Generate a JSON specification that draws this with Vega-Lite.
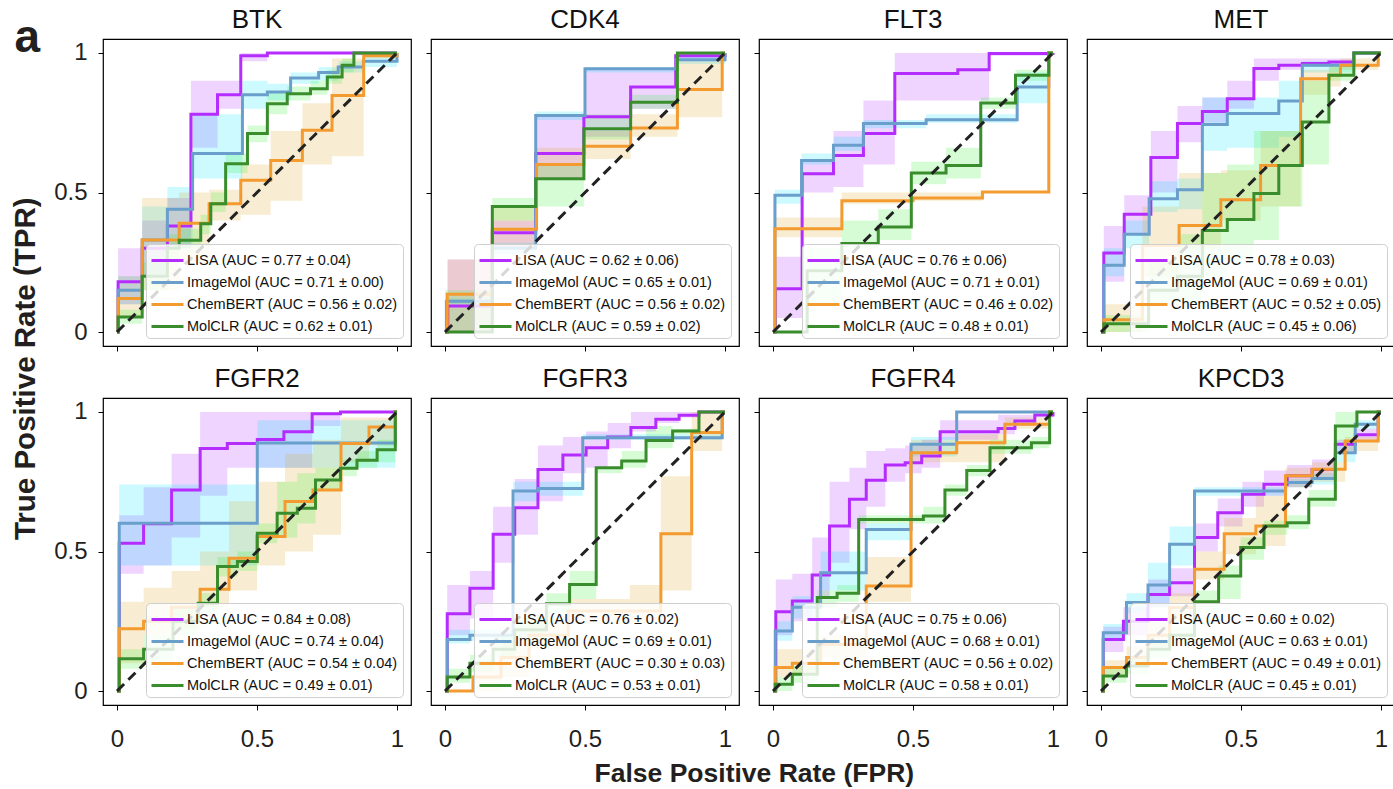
{
"$schema":"https://vega.github.io/schema/vega-lite/v6.json",
"background":"white",
"padding":{"left":10,"top":6,"right":0,"bottom":2},
"title":{"text":"a","orient":"top","anchor":"start","frame":"bounds","fontSize":46,"fontWeight":"bold","font":"Liberation Sans","color":"#231f20","offset":-56,"dx":4},
"resolve":{"scale":{"stroke":"independent"},"legend":{"stroke":"independent"}},
"vconcat":[{
 "title":{"text":"True Positive Rate (TPR)","orient":"left","anchor":"middle","fontSize":29.5,"fontWeight":"bold","font":"Liberation Sans","color":"#231f20","offset":12,"dx":28},
 "resolve":{"scale":{"stroke":"independent"},"legend":{"stroke":"independent"}},
 "vconcat":[{
  "title":{"text":"False Positive Rate (FPR)","orient":"bottom","anchor":"middle","fontSize":26.5,"fontWeight":"bold","font":"Liberation Sans","color":"#231f20","offset":9,"dx":30},
  "resolve":{"scale":{"stroke":"independent"},"legend":{"stroke":"independent"}},
  "spacing":12,
  "vconcat":[
   {"spacing":12,"resolve":{"scale":{"stroke":"independent"},"legend":{"stroke":"independent"}},
    "hconcat":[
     {"title":"BTK","width":308,"height":307,"data":{"name":"roc"},
      "transform":[{"filter":"datum.p === 'BTK'"},{"calculate":"datum.p + '|' + datum.m","as":"k"},{"lookup":"k","from":{"data":{"name":"auc"},"key":"k","fields":["label","o"]}}],
      "layer":[
       {"mark":{"type":"area","interpolate":"step-after","opacity":0.2},"encoding":{"x":{"field":"x","type":"quantitative","scale":{"domain":[-0.05,1.05],"nice":false,"zero":false},"axis":{"values":[0,0.5,1],"labels":false,"title":null}},"y":{"field":"lo","type":"quantitative","scale":{"domain":[-0.05,1.05],"nice":false,"zero":false},"axis":{"values":[0,0.5,1],"format":"~g","title":null,"labelPadding":11}},"y2":{"field":"hi"},"fill":{"field":"m","type":"nominal","scale":{"domain":["LISA","ImageMol","ChemBERT","MolCLR"],"range":["#b026ff","#00e5ff","#daa520","#33ee33"]},"legend":null}}},
       {"mark":{"type":"line","interpolate":"step-after","strokeWidth":3},"encoding":{"x":{"field":"x","type":"quantitative"},"y":{"field":"y","type":"quantitative"},"stroke":{"field":"label","type":"nominal","sort":{"field":"o","op":"min"},"scale":{"range":["#b52cff","#6a9fcb","#f39b2f","#3a8d2d"]},"legend":{"title":null}}}},
       {"data":{"name":"diag"},"mark":{"type":"line","strokeDash":[10,6],"stroke":"#222222","strokeWidth":3},"encoding":{"x":{"field":"x","type":"quantitative"},"y":{"field":"y","type":"quantitative"}}}
      ]},
     {"title":"CDK4","width":308,"height":307,"data":{"name":"roc"},
      "transform":[{"filter":"datum.p === 'CDK4'"},{"calculate":"datum.p + '|' + datum.m","as":"k"},{"lookup":"k","from":{"data":{"name":"auc"},"key":"k","fields":["label","o"]}}],
      "layer":[
       {"mark":{"type":"area","interpolate":"step-after","opacity":0.2},"encoding":{"x":{"field":"x","type":"quantitative","scale":{"domain":[-0.05,1.05],"nice":false,"zero":false},"axis":{"values":[0,0.5,1],"labels":false,"title":null}},"y":{"field":"lo","type":"quantitative","scale":{"domain":[-0.05,1.05],"nice":false,"zero":false},"axis":{"values":[0,0.5,1],"labels":false,"title":null}},"y2":{"field":"hi"},"fill":{"field":"m","type":"nominal","scale":{"domain":["LISA","ImageMol","ChemBERT","MolCLR"],"range":["#b026ff","#00e5ff","#daa520","#33ee33"]},"legend":null}}},
       {"mark":{"type":"line","interpolate":"step-after","strokeWidth":3},"encoding":{"x":{"field":"x","type":"quantitative"},"y":{"field":"y","type":"quantitative"},"stroke":{"field":"label","type":"nominal","sort":{"field":"o","op":"min"},"scale":{"range":["#b52cff","#6a9fcb","#f39b2f","#3a8d2d"]},"legend":{"title":null}}}},
       {"data":{"name":"diag"},"mark":{"type":"line","strokeDash":[10,6],"stroke":"#222222","strokeWidth":3},"encoding":{"x":{"field":"x","type":"quantitative"},"y":{"field":"y","type":"quantitative"}}}
      ]},
     {"title":"FLT3","width":308,"height":307,"data":{"name":"roc"},
      "transform":[{"filter":"datum.p === 'FLT3'"},{"calculate":"datum.p + '|' + datum.m","as":"k"},{"lookup":"k","from":{"data":{"name":"auc"},"key":"k","fields":["label","o"]}}],
      "layer":[
       {"mark":{"type":"area","interpolate":"step-after","opacity":0.2},"encoding":{"x":{"field":"x","type":"quantitative","scale":{"domain":[-0.05,1.05],"nice":false,"zero":false},"axis":{"values":[0,0.5,1],"labels":false,"title":null}},"y":{"field":"lo","type":"quantitative","scale":{"domain":[-0.05,1.05],"nice":false,"zero":false},"axis":{"values":[0,0.5,1],"labels":false,"title":null}},"y2":{"field":"hi"},"fill":{"field":"m","type":"nominal","scale":{"domain":["LISA","ImageMol","ChemBERT","MolCLR"],"range":["#b026ff","#00e5ff","#daa520","#33ee33"]},"legend":null}}},
       {"mark":{"type":"line","interpolate":"step-after","strokeWidth":3},"encoding":{"x":{"field":"x","type":"quantitative"},"y":{"field":"y","type":"quantitative"},"stroke":{"field":"label","type":"nominal","sort":{"field":"o","op":"min"},"scale":{"range":["#b52cff","#6a9fcb","#f39b2f","#3a8d2d"]},"legend":{"title":null}}}},
       {"data":{"name":"diag"},"mark":{"type":"line","strokeDash":[10,6],"stroke":"#222222","strokeWidth":3},"encoding":{"x":{"field":"x","type":"quantitative"},"y":{"field":"y","type":"quantitative"}}}
      ]},
     {"title":"MET","width":308,"height":307,"data":{"name":"roc"},
      "transform":[{"filter":"datum.p === 'MET'"},{"calculate":"datum.p + '|' + datum.m","as":"k"},{"lookup":"k","from":{"data":{"name":"auc"},"key":"k","fields":["label","o"]}}],
      "layer":[
       {"mark":{"type":"area","interpolate":"step-after","opacity":0.2},"encoding":{"x":{"field":"x","type":"quantitative","scale":{"domain":[-0.05,1.05],"nice":false,"zero":false},"axis":{"values":[0,0.5,1],"labels":false,"title":null}},"y":{"field":"lo","type":"quantitative","scale":{"domain":[-0.05,1.05],"nice":false,"zero":false},"axis":{"values":[0,0.5,1],"labels":false,"title":null}},"y2":{"field":"hi"},"fill":{"field":"m","type":"nominal","scale":{"domain":["LISA","ImageMol","ChemBERT","MolCLR"],"range":["#b026ff","#00e5ff","#daa520","#33ee33"]},"legend":null}}},
       {"mark":{"type":"line","interpolate":"step-after","strokeWidth":3},"encoding":{"x":{"field":"x","type":"quantitative"},"y":{"field":"y","type":"quantitative"},"stroke":{"field":"label","type":"nominal","sort":{"field":"o","op":"min"},"scale":{"range":["#b52cff","#6a9fcb","#f39b2f","#3a8d2d"]},"legend":{"title":null}}}},
       {"data":{"name":"diag"},"mark":{"type":"line","strokeDash":[10,6],"stroke":"#222222","strokeWidth":3},"encoding":{"x":{"field":"x","type":"quantitative"},"y":{"field":"y","type":"quantitative"}}}
      ]}
    ]},
   {"spacing":12,"resolve":{"scale":{"stroke":"independent"},"legend":{"stroke":"independent"}},
    "hconcat":[
     {"title":"FGFR2","width":308,"height":307,"data":{"name":"roc"},
      "transform":[{"filter":"datum.p === 'FGFR2'"},{"calculate":"datum.p + '|' + datum.m","as":"k"},{"lookup":"k","from":{"data":{"name":"auc"},"key":"k","fields":["label","o"]}}],
      "layer":[
       {"mark":{"type":"area","interpolate":"step-after","opacity":0.2},"encoding":{"x":{"field":"x","type":"quantitative","scale":{"domain":[-0.05,1.05],"nice":false,"zero":false},"axis":{"values":[0,0.5,1],"format":"~g","title":null,"labelPadding":17}},"y":{"field":"lo","type":"quantitative","scale":{"domain":[-0.05,1.05],"nice":false,"zero":false},"axis":{"values":[0,0.5,1],"format":"~g","title":null,"labelPadding":11}},"y2":{"field":"hi"},"fill":{"field":"m","type":"nominal","scale":{"domain":["LISA","ImageMol","ChemBERT","MolCLR"],"range":["#b026ff","#00e5ff","#daa520","#33ee33"]},"legend":null}}},
       {"mark":{"type":"line","interpolate":"step-after","strokeWidth":3},"encoding":{"x":{"field":"x","type":"quantitative"},"y":{"field":"y","type":"quantitative"},"stroke":{"field":"label","type":"nominal","sort":{"field":"o","op":"min"},"scale":{"range":["#b52cff","#6a9fcb","#f39b2f","#3a8d2d"]},"legend":{"title":null}}}},
       {"data":{"name":"diag"},"mark":{"type":"line","strokeDash":[10,6],"stroke":"#222222","strokeWidth":3},"encoding":{"x":{"field":"x","type":"quantitative"},"y":{"field":"y","type":"quantitative"}}}
      ]},
     {"title":"FGFR3","width":308,"height":307,"data":{"name":"roc"},
      "transform":[{"filter":"datum.p === 'FGFR3'"},{"calculate":"datum.p + '|' + datum.m","as":"k"},{"lookup":"k","from":{"data":{"name":"auc"},"key":"k","fields":["label","o"]}}],
      "layer":[
       {"mark":{"type":"area","interpolate":"step-after","opacity":0.2},"encoding":{"x":{"field":"x","type":"quantitative","scale":{"domain":[-0.05,1.05],"nice":false,"zero":false},"axis":{"values":[0,0.5,1],"format":"~g","title":null,"labelPadding":17}},"y":{"field":"lo","type":"quantitative","scale":{"domain":[-0.05,1.05],"nice":false,"zero":false},"axis":{"values":[0,0.5,1],"labels":false,"title":null}},"y2":{"field":"hi"},"fill":{"field":"m","type":"nominal","scale":{"domain":["LISA","ImageMol","ChemBERT","MolCLR"],"range":["#b026ff","#00e5ff","#daa520","#33ee33"]},"legend":null}}},
       {"mark":{"type":"line","interpolate":"step-after","strokeWidth":3},"encoding":{"x":{"field":"x","type":"quantitative"},"y":{"field":"y","type":"quantitative"},"stroke":{"field":"label","type":"nominal","sort":{"field":"o","op":"min"},"scale":{"range":["#b52cff","#6a9fcb","#f39b2f","#3a8d2d"]},"legend":{"title":null}}}},
       {"data":{"name":"diag"},"mark":{"type":"line","strokeDash":[10,6],"stroke":"#222222","strokeWidth":3},"encoding":{"x":{"field":"x","type":"quantitative"},"y":{"field":"y","type":"quantitative"}}}
      ]},
     {"title":"FGFR4","width":308,"height":307,"data":{"name":"roc"},
      "transform":[{"filter":"datum.p === 'FGFR4'"},{"calculate":"datum.p + '|' + datum.m","as":"k"},{"lookup":"k","from":{"data":{"name":"auc"},"key":"k","fields":["label","o"]}}],
      "layer":[
       {"mark":{"type":"area","interpolate":"step-after","opacity":0.2},"encoding":{"x":{"field":"x","type":"quantitative","scale":{"domain":[-0.05,1.05],"nice":false,"zero":false},"axis":{"values":[0,0.5,1],"format":"~g","title":null,"labelPadding":17}},"y":{"field":"lo","type":"quantitative","scale":{"domain":[-0.05,1.05],"nice":false,"zero":false},"axis":{"values":[0,0.5,1],"labels":false,"title":null}},"y2":{"field":"hi"},"fill":{"field":"m","type":"nominal","scale":{"domain":["LISA","ImageMol","ChemBERT","MolCLR"],"range":["#b026ff","#00e5ff","#daa520","#33ee33"]},"legend":null}}},
       {"mark":{"type":"line","interpolate":"step-after","strokeWidth":3},"encoding":{"x":{"field":"x","type":"quantitative"},"y":{"field":"y","type":"quantitative"},"stroke":{"field":"label","type":"nominal","sort":{"field":"o","op":"min"},"scale":{"range":["#b52cff","#6a9fcb","#f39b2f","#3a8d2d"]},"legend":{"title":null}}}},
       {"data":{"name":"diag"},"mark":{"type":"line","strokeDash":[10,6],"stroke":"#222222","strokeWidth":3},"encoding":{"x":{"field":"x","type":"quantitative"},"y":{"field":"y","type":"quantitative"}}}
      ]},
     {"title":"KPCD3","width":308,"height":307,"data":{"name":"roc"},
      "transform":[{"filter":"datum.p === 'KPCD3'"},{"calculate":"datum.p + '|' + datum.m","as":"k"},{"lookup":"k","from":{"data":{"name":"auc"},"key":"k","fields":["label","o"]}}],
      "layer":[
       {"mark":{"type":"area","interpolate":"step-after","opacity":0.2},"encoding":{"x":{"field":"x","type":"quantitative","scale":{"domain":[-0.05,1.05],"nice":false,"zero":false},"axis":{"values":[0,0.5,1],"format":"~g","title":null,"labelPadding":17}},"y":{"field":"lo","type":"quantitative","scale":{"domain":[-0.05,1.05],"nice":false,"zero":false},"axis":{"values":[0,0.5,1],"labels":false,"title":null}},"y2":{"field":"hi"},"fill":{"field":"m","type":"nominal","scale":{"domain":["LISA","ImageMol","ChemBERT","MolCLR"],"range":["#b026ff","#00e5ff","#daa520","#33ee33"]},"legend":null}}},
       {"mark":{"type":"line","interpolate":"step-after","strokeWidth":3},"encoding":{"x":{"field":"x","type":"quantitative"},"y":{"field":"y","type":"quantitative"},"stroke":{"field":"label","type":"nominal","sort":{"field":"o","op":"min"},"scale":{"range":["#b52cff","#6a9fcb","#f39b2f","#3a8d2d"]},"legend":{"title":null}}}},
       {"data":{"name":"diag"},"mark":{"type":"line","strokeDash":[10,6],"stroke":"#222222","strokeWidth":3},"encoding":{"x":{"field":"x","type":"quantitative"},"y":{"field":"y","type":"quantitative"}}}
      ]}
    ]}
  ]
 }]
}],
"config":{
 "font":"Liberation Sans",
 "view":{"stroke":"#000000","strokeWidth":1.2},
 "title":{"font":"Liberation Sans","fontSize":26,"fontWeight":"normal","color":"#111111","offset":6},
 "axis":{"domain":false,"grid":false,"ticks":true,"tickSize":5,"tickColor":"#000000","tickWidth":1,"labelFont":"Liberation Sans","labelFontSize":24,"labelColor":"#231f20","labelFlush":false},
 "legend":{"orient":"bottom-right","offset":8,"padding":5,"cornerRadius":4,"strokeColor":"#cfcfcf","fillColor":"rgba(255,255,255,0.82)","labelFont":"Liberation Sans","labelFontSize":14.5,"labelColor":"#111111","labelLimit":400,"labelOffset":8,"symbolType":"M-1.6,0H1.6","symbolSize":400,"symbolOffset":5,"symbolStrokeWidth":3,"rowPadding":4}
},
"datasets":{
 "diag":[{"x":0,"y":0},{"x":1,"y":1}],
 "auc":[
  {"k":"BTK|LISA","o":0,"label":"LISA (AUC = 0.77 ± 0.04)"},
  {"k":"BTK|ImageMol","o":1,"label":"ImageMol (AUC = 0.71 ± 0.00)"},
  {"k":"BTK|ChemBERT","o":2,"label":"ChemBERT (AUC = 0.56 ± 0.02)"},
  {"k":"BTK|MolCLR","o":3,"label":"MolCLR (AUC = 0.62 ± 0.01)"},
  {"k":"CDK4|LISA","o":0,"label":"LISA (AUC = 0.62 ± 0.06)"},
  {"k":"CDK4|ImageMol","o":1,"label":"ImageMol (AUC = 0.65 ± 0.01)"},
  {"k":"CDK4|ChemBERT","o":2,"label":"ChemBERT (AUC = 0.56 ± 0.02)"},
  {"k":"CDK4|MolCLR","o":3,"label":"MolCLR (AUC = 0.59 ± 0.02)"},
  {"k":"FLT3|LISA","o":0,"label":"LISA (AUC = 0.76 ± 0.06)"},
  {"k":"FLT3|ImageMol","o":1,"label":"ImageMol (AUC = 0.71 ± 0.01)"},
  {"k":"FLT3|ChemBERT","o":2,"label":"ChemBERT (AUC = 0.46 ± 0.02)"},
  {"k":"FLT3|MolCLR","o":3,"label":"MolCLR (AUC = 0.48 ± 0.01)"},
  {"k":"MET|LISA","o":0,"label":"LISA (AUC = 0.78 ± 0.03)"},
  {"k":"MET|ImageMol","o":1,"label":"ImageMol (AUC = 0.69 ± 0.01)"},
  {"k":"MET|ChemBERT","o":2,"label":"ChemBERT (AUC = 0.52 ± 0.05)"},
  {"k":"MET|MolCLR","o":3,"label":"MolCLR (AUC = 0.45 ± 0.06)"},
  {"k":"FGFR2|LISA","o":0,"label":"LISA (AUC = 0.84 ± 0.08)"},
  {"k":"FGFR2|ImageMol","o":1,"label":"ImageMol (AUC = 0.74 ± 0.04)"},
  {"k":"FGFR2|ChemBERT","o":2,"label":"ChemBERT (AUC = 0.54 ± 0.04)"},
  {"k":"FGFR2|MolCLR","o":3,"label":"MolCLR (AUC = 0.49 ± 0.01)"},
  {"k":"FGFR3|LISA","o":0,"label":"LISA (AUC = 0.76 ± 0.02)"},
  {"k":"FGFR3|ImageMol","o":1,"label":"ImageMol (AUC = 0.69 ± 0.01)"},
  {"k":"FGFR3|ChemBERT","o":2,"label":"ChemBERT (AUC = 0.30 ± 0.03)"},
  {"k":"FGFR3|MolCLR","o":3,"label":"MolCLR (AUC = 0.53 ± 0.01)"},
  {"k":"FGFR4|LISA","o":0,"label":"LISA (AUC = 0.75 ± 0.06)"},
  {"k":"FGFR4|ImageMol","o":1,"label":"ImageMol (AUC = 0.68 ± 0.01)"},
  {"k":"FGFR4|ChemBERT","o":2,"label":"ChemBERT (AUC = 0.56 ± 0.02)"},
  {"k":"FGFR4|MolCLR","o":3,"label":"MolCLR (AUC = 0.58 ± 0.01)"},
  {"k":"KPCD3|LISA","o":0,"label":"LISA (AUC = 0.60 ± 0.02)"},
  {"k":"KPCD3|ImageMol","o":1,"label":"ImageMol (AUC = 0.63 ± 0.01)"},
  {"k":"KPCD3|ChemBERT","o":2,"label":"ChemBERT (AUC = 0.49 ± 0.01)"},
  {"k":"KPCD3|MolCLR","o":3,"label":"MolCLR (AUC = 0.45 ± 0.01)"}
 ],
 "roc":[
  {"p":"BTK","m":"LISA","x":0,"y":0,"lo":0,"hi":0},
  {"p":"BTK","m":"LISA","x":0.004,"y":0.18,"lo":0.1,"hi":0.3},
  {"p":"BTK","m":"LISA","x":0.09,"y":0.3,"lo":0.2,"hi":0.4},
  {"p":"BTK","m":"LISA","x":0.18,"y":0.38,"lo":0.3,"hi":0.48},
  {"p":"BTK","m":"LISA","x":0.264,"y":0.78,"lo":0.66,"hi":0.9},
  {"p":"BTK","m":"LISA","x":0.359,"y":0.85,"lo":0.8,"hi":0.9},
  {"p":"BTK","m":"LISA","x":0.442,"y":0.99,"lo":0.97,"hi":1},
  {"p":"BTK","m":"LISA","x":0.537,"y":1,"lo":1,"hi":1},
  {"p":"BTK","m":"LISA","x":1,"y":1,"lo":1,"hi":1},
  {"p":"BTK","m":"ImageMol","x":0,"y":0,"lo":0,"hi":0},
  {"p":"BTK","m":"ImageMol","x":0.004,"y":0.15,"lo":0.1,"hi":0.2},
  {"p":"BTK","m":"ImageMol","x":0.09,"y":0.33,"lo":0.2,"hi":0.45},
  {"p":"BTK","m":"ImageMol","x":0.18,"y":0.44,"lo":0.3,"hi":0.52},
  {"p":"BTK","m":"ImageMol","x":0.27,"y":0.64,"lo":0.55,"hi":0.78},
  {"p":"BTK","m":"ImageMol","x":0.448,"y":0.85,"lo":0.8,"hi":0.9},
  {"p":"BTK","m":"ImageMol","x":0.537,"y":0.86,"lo":0.83,"hi":0.89},
  {"p":"BTK","m":"ImageMol","x":0.62,"y":0.91,"lo":0.89,"hi":0.93},
  {"p":"BTK","m":"ImageMol","x":0.72,"y":0.93,"lo":0.9,"hi":0.95},
  {"p":"BTK","m":"ImageMol","x":0.79,"y":0.95,"lo":0.93,"hi":0.97},
  {"p":"BTK","m":"ImageMol","x":0.88,"y":0.97,"lo":0.95,"hi":0.99},
  {"p":"BTK","m":"ImageMol","x":1,"y":1,"lo":1,"hi":1},
  {"p":"BTK","m":"ChemBERT","x":0,"y":0,"lo":0,"hi":0},
  {"p":"BTK","m":"ChemBERT","x":0.004,"y":0.12,"lo":0.05,"hi":0.2},
  {"p":"BTK","m":"ChemBERT","x":0.09,"y":0.33,"lo":0.15,"hi":0.48},
  {"p":"BTK","m":"ChemBERT","x":0.222,"y":0.39,"lo":0.25,"hi":0.5},
  {"p":"BTK","m":"ChemBERT","x":0.329,"y":0.46,"lo":0.4,"hi":0.51},
  {"p":"BTK","m":"ChemBERT","x":0.442,"y":0.544,"lo":0.42,"hi":0.6},
  {"p":"BTK","m":"ChemBERT","x":0.549,"y":0.615,"lo":0.47,"hi":0.72},
  {"p":"BTK","m":"ChemBERT","x":0.662,"y":0.723,"lo":0.6,"hi":0.82},
  {"p":"BTK","m":"ChemBERT","x":0.768,"y":0.848,"lo":0.63,"hi":0.98},
  {"p":"BTK","m":"ChemBERT","x":0.881,"y":0.99,"lo":0.98,"hi":1},
  {"p":"BTK","m":"ChemBERT","x":1,"y":1,"lo":1,"hi":1},
  {"p":"BTK","m":"MolCLR","x":0,"y":0,"lo":0,"hi":0},
  {"p":"BTK","m":"MolCLR","x":0.004,"y":0.054,"lo":0.03,"hi":0.08},
  {"p":"BTK","m":"MolCLR","x":0.09,"y":0.2,"lo":0.15,"hi":0.25},
  {"p":"BTK","m":"MolCLR","x":0.18,"y":0.3,"lo":0.25,"hi":0.35},
  {"p":"BTK","m":"MolCLR","x":0.222,"y":0.329,"lo":0.3,"hi":0.37},
  {"p":"BTK","m":"MolCLR","x":0.299,"y":0.388,"lo":0.35,"hi":0.42},
  {"p":"BTK","m":"MolCLR","x":0.335,"y":0.46,"lo":0.43,"hi":0.5},
  {"p":"BTK","m":"MolCLR","x":0.388,"y":0.603,"lo":0.57,"hi":0.64},
  {"p":"BTK","m":"MolCLR","x":0.466,"y":0.711,"lo":0.68,"hi":0.74},
  {"p":"BTK","m":"MolCLR","x":0.537,"y":0.818,"lo":0.78,"hi":0.86},
  {"p":"BTK","m":"MolCLR","x":0.608,"y":0.854,"lo":0.83,"hi":0.88},
  {"p":"BTK","m":"MolCLR","x":0.691,"y":0.872,"lo":0.85,"hi":0.9},
  {"p":"BTK","m":"MolCLR","x":0.751,"y":0.914,"lo":0.89,"hi":0.94},
  {"p":"BTK","m":"MolCLR","x":0.804,"y":0.956,"lo":0.93,"hi":0.98},
  {"p":"BTK","m":"MolCLR","x":0.846,"y":1,"lo":1,"hi":1},
  {"p":"BTK","m":"MolCLR","x":1,"y":1,"lo":1,"hi":1},

  {"p":"CDK4","m":"LISA","x":0,"y":0,"lo":0,"hi":0},
  {"p":"CDK4","m":"LISA","x":0.01,"y":0.093,"lo":0,"hi":0.26},
  {"p":"CDK4","m":"LISA","x":0.169,"y":0.356,"lo":0.3,"hi":0.4},
  {"p":"CDK4","m":"LISA","x":0.324,"y":0.64,"lo":0.55,"hi":0.78},
  {"p":"CDK4","m":"LISA","x":0.496,"y":0.771,"lo":0.7,"hi":0.94},
  {"p":"CDK4","m":"LISA","x":0.663,"y":0.878,"lo":0.8,"hi":0.94},
  {"p":"CDK4","m":"LISA","x":0.824,"y":0.99,"lo":0.97,"hi":1},
  {"p":"CDK4","m":"LISA","x":1,"y":1,"lo":1,"hi":1},
  {"p":"CDK4","m":"ImageMol","x":0,"y":0,"lo":0,"hi":0},
  {"p":"CDK4","m":"ImageMol","x":0.005,"y":0.11,"lo":0.1,"hi":0.12},
  {"p":"CDK4","m":"ImageMol","x":0.169,"y":0.3,"lo":0.28,"hi":0.32},
  {"p":"CDK4","m":"ImageMol","x":0.324,"y":0.776,"lo":0.76,"hi":0.79},
  {"p":"CDK4","m":"ImageMol","x":0.5,"y":0.943,"lo":0.93,"hi":0.95},
  {"p":"CDK4","m":"ImageMol","x":0.826,"y":0.976,"lo":0.96,"hi":0.99},
  {"p":"CDK4","m":"ImageMol","x":1,"y":1,"lo":1,"hi":1},
  {"p":"CDK4","m":"ChemBERT","x":0,"y":0,"lo":0,"hi":0},
  {"p":"CDK4","m":"ChemBERT","x":0.008,"y":0.135,"lo":0,"hi":0.26},
  {"p":"CDK4","m":"ChemBERT","x":0.169,"y":0.368,"lo":0.3,"hi":0.45},
  {"p":"CDK4","m":"ChemBERT","x":0.327,"y":0.6,"lo":0.55,"hi":0.66},
  {"p":"CDK4","m":"ChemBERT","x":0.496,"y":0.666,"lo":0.62,"hi":0.72},
  {"p":"CDK4","m":"ChemBERT","x":0.663,"y":0.731,"lo":0.7,"hi":0.78},
  {"p":"CDK4","m":"ChemBERT","x":0.83,"y":0.869,"lo":0.77,"hi":0.97},
  {"p":"CDK4","m":"ChemBERT","x":0.99,"y":1,"lo":1,"hi":1},
  {"p":"CDK4","m":"ChemBERT","x":1,"y":1,"lo":1,"hi":1},
  {"p":"CDK4","m":"MolCLR","x":0,"y":0,"lo":0,"hi":0.15},
  {"p":"CDK4","m":"MolCLR","x":0.169,"y":0.45,"lo":0.4,"hi":0.48},
  {"p":"CDK4","m":"MolCLR","x":0.324,"y":0.549,"lo":0.45,"hi":0.6},
  {"p":"CDK4","m":"MolCLR","x":0.496,"y":0.728,"lo":0.69,"hi":0.78},
  {"p":"CDK4","m":"MolCLR","x":0.663,"y":0.823,"lo":0.8,"hi":0.85},
  {"p":"CDK4","m":"MolCLR","x":0.83,"y":1,"lo":1,"hi":1},
  {"p":"CDK4","m":"MolCLR","x":1,"y":1,"lo":1,"hi":1},

  {"p":"FLT3","m":"LISA","x":0,"y":0,"lo":0,"hi":0},
  {"p":"FLT3","m":"LISA","x":0.009,"y":0.155,"lo":0.05,"hi":0.27},
  {"p":"FLT3","m":"LISA","x":0.104,"y":0.567,"lo":0.5,"hi":0.62},
  {"p":"FLT3","m":"LISA","x":0.216,"y":0.633,"lo":0.52,"hi":0.72},
  {"p":"FLT3","m":"LISA","x":0.323,"y":0.711,"lo":0.6,"hi":0.83},
  {"p":"FLT3","m":"LISA","x":0.435,"y":0.926,"lo":0.83,"hi":1},
  {"p":"FLT3","m":"LISA","x":0.66,"y":0.94,"lo":0.83,"hi":1},
  {"p":"FLT3","m":"LISA","x":0.772,"y":0.998,"lo":0.99,"hi":1},
  {"p":"FLT3","m":"LISA","x":1,"y":1,"lo":1,"hi":1},
  {"p":"FLT3","m":"ImageMol","x":0,"y":0,"lo":0,"hi":0},
  {"p":"FLT3","m":"ImageMol","x":0.007,"y":0.49,"lo":0.46,"hi":0.51},
  {"p":"FLT3","m":"ImageMol","x":0.102,"y":0.615,"lo":0.6,"hi":0.64},
  {"p":"FLT3","m":"ImageMol","x":0.216,"y":0.669,"lo":0.65,"hi":0.7},
  {"p":"FLT3","m":"ImageMol","x":0.323,"y":0.747,"lo":0.73,"hi":0.76},
  {"p":"FLT3","m":"ImageMol","x":0.547,"y":0.761,"lo":0.75,"hi":0.78},
  {"p":"FLT3","m":"ImageMol","x":0.872,"y":0.878,"lo":0.82,"hi":0.93},
  {"p":"FLT3","m":"ImageMol","x":0.985,"y":1,"lo":1,"hi":1},
  {"p":"FLT3","m":"ImageMol","x":1,"y":1,"lo":1,"hi":1},
  {"p":"FLT3","m":"ChemBERT","x":0,"y":0,"lo":0,"hi":0},
  {"p":"FLT3","m":"ChemBERT","x":0.007,"y":0.37,"lo":0.34,"hi":0.41},
  {"p":"FLT3","m":"ChemBERT","x":0.246,"y":0.47,"lo":0.46,"hi":0.5},
  {"p":"FLT3","m":"ChemBERT","x":0.5,"y":0.48,"lo":0.47,"hi":0.5},
  {"p":"FLT3","m":"ChemBERT","x":0.748,"y":0.502,"lo":0.5,"hi":0.5},
  {"p":"FLT3","m":"ChemBERT","x":0.985,"y":1,"lo":1,"hi":1},
  {"p":"FLT3","m":"ChemBERT","x":1,"y":1,"lo":1,"hi":1},
  {"p":"FLT3","m":"MolCLR","x":0,"y":0,"lo":0,"hi":0},
  {"p":"FLT3","m":"MolCLR","x":0.122,"y":0.22,"lo":0.1,"hi":0.3},
  {"p":"FLT3","m":"MolCLR","x":0.246,"y":0.317,"lo":0.3,"hi":0.4},
  {"p":"FLT3","m":"MolCLR","x":0.376,"y":0.376,"lo":0.33,"hi":0.44},
  {"p":"FLT3","m":"MolCLR","x":0.494,"y":0.57,"lo":0.53,"hi":0.61},
  {"p":"FLT3","m":"MolCLR","x":0.618,"y":0.597,"lo":0.55,"hi":0.66},
  {"p":"FLT3","m":"MolCLR","x":0.742,"y":0.821,"lo":0.8,"hi":0.84},
  {"p":"FLT3","m":"MolCLR","x":0.866,"y":0.92,"lo":0.9,"hi":0.94},
  {"p":"FLT3","m":"MolCLR","x":0.985,"y":1,"lo":1,"hi":1},
  {"p":"FLT3","m":"MolCLR","x":1,"y":1,"lo":1,"hi":1},

  {"p":"MET","m":"LISA","x":0,"y":0,"lo":0,"hi":0},
  {"p":"MET","m":"LISA","x":0.01,"y":0.283,"lo":0.18,"hi":0.38},
  {"p":"MET","m":"LISA","x":0.083,"y":0.422,"lo":0.35,"hi":0.49},
  {"p":"MET","m":"LISA","x":0.178,"y":0.625,"lo":0.5,"hi":0.72},
  {"p":"MET","m":"LISA","x":0.273,"y":0.747,"lo":0.68,"hi":0.81},
  {"p":"MET","m":"LISA","x":0.362,"y":0.79,"lo":0.75,"hi":0.84},
  {"p":"MET","m":"LISA","x":0.451,"y":0.836,"lo":0.8,"hi":0.9},
  {"p":"MET","m":"LISA","x":0.546,"y":0.944,"lo":0.9,"hi":0.98},
  {"p":"MET","m":"LISA","x":0.635,"y":0.956,"lo":0.94,"hi":0.98},
  {"p":"MET","m":"LISA","x":0.719,"y":0.962,"lo":0.95,"hi":0.98},
  {"p":"MET","m":"LISA","x":0.814,"y":0.968,"lo":0.96,"hi":0.98},
  {"p":"MET","m":"LISA","x":0.903,"y":1,"lo":1,"hi":1},
  {"p":"MET","m":"LISA","x":1,"y":1,"lo":1,"hi":1},
  {"p":"MET","m":"ImageMol","x":0,"y":0,"lo":0,"hi":0},
  {"p":"MET","m":"ImageMol","x":0.01,"y":0.239,"lo":0.2,"hi":0.3},
  {"p":"MET","m":"ImageMol","x":0.083,"y":0.35,"lo":0.3,"hi":0.4},
  {"p":"MET","m":"ImageMol","x":0.172,"y":0.478,"lo":0.43,"hi":0.54},
  {"p":"MET","m":"ImageMol","x":0.273,"y":0.51,"lo":0.44,"hi":0.55},
  {"p":"MET","m":"ImageMol","x":0.362,"y":0.744,"lo":0.65,"hi":0.84},
  {"p":"MET","m":"ImageMol","x":0.451,"y":0.783,"lo":0.66,"hi":0.84},
  {"p":"MET","m":"ImageMol","x":0.635,"y":0.828,"lo":0.7,"hi":0.9},
  {"p":"MET","m":"ImageMol","x":0.719,"y":0.956,"lo":0.93,"hi":0.97},
  {"p":"MET","m":"ImageMol","x":0.903,"y":1,"lo":1,"hi":1},
  {"p":"MET","m":"ImageMol","x":1,"y":1,"lo":1,"hi":1},
  {"p":"MET","m":"ChemBERT","x":0,"y":0,"lo":0,"hi":0},
  {"p":"MET","m":"ChemBERT","x":0.01,"y":0.044,"lo":0,"hi":0.1},
  {"p":"MET","m":"ChemBERT","x":0.148,"y":0.31,"lo":0.2,"hi":0.45},
  {"p":"MET","m":"ChemBERT","x":0.279,"y":0.382,"lo":0.3,"hi":0.57},
  {"p":"MET","m":"ChemBERT","x":0.428,"y":0.474,"lo":0.4,"hi":0.58},
  {"p":"MET","m":"ChemBERT","x":0.57,"y":0.597,"lo":0.45,"hi":0.72},
  {"p":"MET","m":"ChemBERT","x":0.713,"y":0.908,"lo":0.85,"hi":0.94},
  {"p":"MET","m":"ChemBERT","x":0.814,"y":0.92,"lo":0.88,"hi":0.96},
  {"p":"MET","m":"ChemBERT","x":0.855,"y":0.956,"lo":0.94,"hi":0.98},
  {"p":"MET","m":"ChemBERT","x":0.99,"y":1,"lo":1,"hi":1},
  {"p":"MET","m":"ChemBERT","x":1,"y":1,"lo":1,"hi":1},
  {"p":"MET","m":"MolCLR","x":0,"y":0,"lo":0,"hi":0},
  {"p":"MET","m":"MolCLR","x":0.01,"y":0.03,"lo":0,"hi":0.06},
  {"p":"MET","m":"MolCLR","x":0.17,"y":0.15,"lo":0.1,"hi":0.25},
  {"p":"MET","m":"MolCLR","x":0.273,"y":0.2,"lo":0.1,"hi":0.35},
  {"p":"MET","m":"MolCLR","x":0.362,"y":0.364,"lo":0.2,"hi":0.57},
  {"p":"MET","m":"MolCLR","x":0.451,"y":0.403,"lo":0.25,"hi":0.6},
  {"p":"MET","m":"MolCLR","x":0.546,"y":0.496,"lo":0.33,"hi":0.72},
  {"p":"MET","m":"MolCLR","x":0.635,"y":0.597,"lo":0.45,"hi":0.72},
  {"p":"MET","m":"MolCLR","x":0.719,"y":0.753,"lo":0.6,"hi":0.9},
  {"p":"MET","m":"MolCLR","x":0.814,"y":0.92,"lo":0.9,"hi":0.96},
  {"p":"MET","m":"MolCLR","x":0.903,"y":1,"lo":1,"hi":1},
  {"p":"MET","m":"MolCLR","x":1,"y":1,"lo":1,"hi":1},

  {"p":"FGFR2","m":"LISA","x":0,"y":0,"lo":0,"hi":0},
  {"p":"FGFR2","m":"LISA","x":0.008,"y":0.53,"lo":0.42,"hi":0.63},
  {"p":"FGFR2","m":"LISA","x":0.095,"y":0.599,"lo":0.45,"hi":0.73},
  {"p":"FGFR2","m":"LISA","x":0.195,"y":0.72,"lo":0.55,"hi":0.85},
  {"p":"FGFR2","m":"LISA","x":0.297,"y":0.869,"lo":0.7,"hi":1},
  {"p":"FGFR2","m":"LISA","x":0.394,"y":0.887,"lo":0.8,"hi":1},
  {"p":"FGFR2","m":"LISA","x":0.501,"y":0.901,"lo":0.8,"hi":1},
  {"p":"FGFR2","m":"LISA","x":0.596,"y":0.929,"lo":0.8,"hi":1},
  {"p":"FGFR2","m":"LISA","x":0.697,"y":0.994,"lo":0.95,"hi":1},
  {"p":"FGFR2","m":"LISA","x":0.798,"y":1,"lo":1,"hi":1},
  {"p":"FGFR2","m":"LISA","x":1,"y":1,"lo":1,"hi":1},
  {"p":"FGFR2","m":"ImageMol","x":0,"y":0,"lo":0,"hi":0},
  {"p":"FGFR2","m":"ImageMol","x":0.008,"y":0.601,"lo":0.45,"hi":0.74},
  {"p":"FGFR2","m":"ImageMol","x":0.501,"y":0.889,"lo":0.8,"hi":0.97},
  {"p":"FGFR2","m":"ImageMol","x":0.994,"y":1,"lo":1,"hi":1},
  {"p":"FGFR2","m":"ImageMol","x":1,"y":1,"lo":1,"hi":1},
  {"p":"FGFR2","m":"ChemBERT","x":0,"y":0,"lo":0,"hi":0},
  {"p":"FGFR2","m":"ChemBERT","x":0.008,"y":0.223,"lo":0.1,"hi":0.32},
  {"p":"FGFR2","m":"ChemBERT","x":0.095,"y":0.25,"lo":0.2,"hi":0.37},
  {"p":"FGFR2","m":"ChemBERT","x":0.195,"y":0.3,"lo":0.22,"hi":0.43},
  {"p":"FGFR2","m":"ChemBERT","x":0.297,"y":0.365,"lo":0.3,"hi":0.5},
  {"p":"FGFR2","m":"ChemBERT","x":0.4,"y":0.476,"lo":0.36,"hi":0.68},
  {"p":"FGFR2","m":"ChemBERT","x":0.5,"y":0.554,"lo":0.45,"hi":0.75},
  {"p":"FGFR2","m":"ChemBERT","x":0.6,"y":0.679,"lo":0.5,"hi":0.85},
  {"p":"FGFR2","m":"ChemBERT","x":0.7,"y":0.72,"lo":0.56,"hi":0.9},
  {"p":"FGFR2","m":"ChemBERT","x":0.8,"y":0.887,"lo":0.82,"hi":0.98},
  {"p":"FGFR2","m":"ChemBERT","x":0.9,"y":0.946,"lo":0.88,"hi":0.98},
  {"p":"FGFR2","m":"ChemBERT","x":0.994,"y":1,"lo":1,"hi":1},
  {"p":"FGFR2","m":"ChemBERT","x":1,"y":1,"lo":1,"hi":1},
  {"p":"FGFR2","m":"MolCLR","x":0,"y":0,"lo":0,"hi":0},
  {"p":"FGFR2","m":"MolCLR","x":0.008,"y":0.116,"lo":0.08,"hi":0.15},
  {"p":"FGFR2","m":"MolCLR","x":0.095,"y":0.15,"lo":0.1,"hi":0.2},
  {"p":"FGFR2","m":"MolCLR","x":0.2,"y":0.25,"lo":0.2,"hi":0.3},
  {"p":"FGFR2","m":"MolCLR","x":0.29,"y":0.315,"lo":0.28,"hi":0.35},
  {"p":"FGFR2","m":"MolCLR","x":0.359,"y":0.446,"lo":0.41,"hi":0.48},
  {"p":"FGFR2","m":"MolCLR","x":0.43,"y":0.464,"lo":0.43,"hi":0.5},
  {"p":"FGFR2","m":"MolCLR","x":0.501,"y":0.565,"lo":0.53,"hi":0.6},
  {"p":"FGFR2","m":"MolCLR","x":0.572,"y":0.637,"lo":0.55,"hi":0.75},
  {"p":"FGFR2","m":"MolCLR","x":0.644,"y":0.655,"lo":0.6,"hi":0.78},
  {"p":"FGFR2","m":"MolCLR","x":0.709,"y":0.756,"lo":0.72,"hi":0.8},
  {"p":"FGFR2","m":"MolCLR","x":0.798,"y":0.798,"lo":0.77,"hi":0.83},
  {"p":"FGFR2","m":"MolCLR","x":0.857,"y":0.827,"lo":0.8,"hi":0.86},
  {"p":"FGFR2","m":"MolCLR","x":0.929,"y":0.865,"lo":0.82,"hi":0.9},
  {"p":"FGFR2","m":"MolCLR","x":0.994,"y":1,"lo":1,"hi":1},
  {"p":"FGFR2","m":"MolCLR","x":1,"y":1,"lo":1,"hi":1},

  {"p":"FGFR3","m":"LISA","x":0,"y":0,"lo":0,"hi":0},
  {"p":"FGFR3","m":"LISA","x":0.008,"y":0.277,"lo":0.2,"hi":0.38},
  {"p":"FGFR3","m":"LISA","x":0.089,"y":0.368,"lo":0.26,"hi":0.43},
  {"p":"FGFR3","m":"LISA","x":0.172,"y":0.562,"lo":0.46,"hi":0.66},
  {"p":"FGFR3","m":"LISA","x":0.249,"y":0.657,"lo":0.56,"hi":0.76},
  {"p":"FGFR3","m":"LISA","x":0.332,"y":0.794,"lo":0.68,"hi":0.88},
  {"p":"FGFR3","m":"LISA","x":0.421,"y":0.846,"lo":0.78,"hi":0.91},
  {"p":"FGFR3","m":"LISA","x":0.504,"y":0.872,"lo":0.8,"hi":0.93},
  {"p":"FGFR3","m":"LISA","x":0.581,"y":0.91,"lo":0.87,"hi":0.96},
  {"p":"FGFR3","m":"LISA","x":0.664,"y":0.944,"lo":0.93,"hi":1},
  {"p":"FGFR3","m":"LISA","x":0.753,"y":0.974,"lo":0.96,"hi":1},
  {"p":"FGFR3","m":"LISA","x":0.836,"y":0.988,"lo":0.98,"hi":1},
  {"p":"FGFR3","m":"LISA","x":0.907,"y":1,"lo":1,"hi":1},
  {"p":"FGFR3","m":"LISA","x":1,"y":1,"lo":1,"hi":1},
  {"p":"FGFR3","m":"ImageMol","x":0,"y":0,"lo":0,"hi":0},
  {"p":"FGFR3","m":"ImageMol","x":0.008,"y":0.185,"lo":0.17,"hi":0.22},
  {"p":"FGFR3","m":"ImageMol","x":0.089,"y":0.2,"lo":0.18,"hi":0.22},
  {"p":"FGFR3","m":"ImageMol","x":0.243,"y":0.717,"lo":0.68,"hi":0.75},
  {"p":"FGFR3","m":"ImageMol","x":0.332,"y":0.726,"lo":0.7,"hi":0.75},
  {"p":"FGFR3","m":"ImageMol","x":0.492,"y":0.908,"lo":0.9,"hi":0.92},
  {"p":"FGFR3","m":"ImageMol","x":0.99,"y":1,"lo":1,"hi":1},
  {"p":"FGFR3","m":"ImageMol","x":1,"y":1,"lo":1,"hi":1},
  {"p":"FGFR3","m":"ChemBERT","x":0,"y":0,"lo":0,"hi":0},
  {"p":"FGFR3","m":"ChemBERT","x":0.1,"y":0.05,"lo":0,"hi":0.1},
  {"p":"FGFR3","m":"ChemBERT","x":0.2,"y":0.12,"lo":0.05,"hi":0.18},
  {"p":"FGFR3","m":"ChemBERT","x":0.3,"y":0.2,"lo":0.15,"hi":0.25},
  {"p":"FGFR3","m":"ChemBERT","x":0.44,"y":0.287,"lo":0.24,"hi":0.33},
  {"p":"FGFR3","m":"ChemBERT","x":0.66,"y":0.287,"lo":0.24,"hi":0.38},
  {"p":"FGFR3","m":"ChemBERT","x":0.771,"y":0.564,"lo":0.36,"hi":0.77},
  {"p":"FGFR3","m":"ChemBERT","x":0.881,"y":0.926,"lo":0.86,"hi":1},
  {"p":"FGFR3","m":"ChemBERT","x":0.99,"y":1,"lo":1,"hi":1},
  {"p":"FGFR3","m":"ChemBERT","x":1,"y":1,"lo":1,"hi":1},
  {"p":"FGFR3","m":"MolCLR","x":0,"y":0,"lo":0,"hi":0},
  {"p":"FGFR3","m":"MolCLR","x":0.008,"y":0.05,"lo":0.03,"hi":0.08},
  {"p":"FGFR3","m":"MolCLR","x":0.089,"y":0.1,"lo":0.07,"hi":0.13},
  {"p":"FGFR3","m":"MolCLR","x":0.172,"y":0.15,"lo":0.12,"hi":0.2},
  {"p":"FGFR3","m":"MolCLR","x":0.249,"y":0.22,"lo":0.18,"hi":0.27},
  {"p":"FGFR3","m":"MolCLR","x":0.362,"y":0.313,"lo":0.28,"hi":0.35},
  {"p":"FGFR3","m":"MolCLR","x":0.445,"y":0.382,"lo":0.33,"hi":0.43},
  {"p":"FGFR3","m":"MolCLR","x":0.54,"y":0.8,"lo":0.78,"hi":0.8},
  {"p":"FGFR3","m":"MolCLR","x":0.631,"y":0.824,"lo":0.8,"hi":0.86},
  {"p":"FGFR3","m":"MolCLR","x":0.718,"y":0.898,"lo":0.87,"hi":0.95},
  {"p":"FGFR3","m":"MolCLR","x":0.813,"y":0.932,"lo":0.92,"hi":0.94},
  {"p":"FGFR3","m":"MolCLR","x":0.907,"y":1,"lo":1,"hi":1},
  {"p":"FGFR3","m":"MolCLR","x":1,"y":1,"lo":1,"hi":1},

  {"p":"FGFR4","m":"LISA","x":0,"y":0,"lo":0,"hi":0},
  {"p":"FGFR4","m":"LISA","x":0.01,"y":0.284,"lo":0.2,"hi":0.4},
  {"p":"FGFR4","m":"LISA","x":0.069,"y":0.323,"lo":0.25,"hi":0.42},
  {"p":"FGFR4","m":"LISA","x":0.14,"y":0.416,"lo":0.34,"hi":0.55},
  {"p":"FGFR4","m":"LISA","x":0.202,"y":0.591,"lo":0.46,"hi":0.75},
  {"p":"FGFR4","m":"LISA","x":0.273,"y":0.687,"lo":0.58,"hi":0.8},
  {"p":"FGFR4","m":"LISA","x":0.333,"y":0.755,"lo":0.66,"hi":0.86},
  {"p":"FGFR4","m":"LISA","x":0.401,"y":0.81,"lo":0.75,"hi":0.87},
  {"p":"FGFR4","m":"LISA","x":0.472,"y":0.818,"lo":0.78,"hi":0.88},
  {"p":"FGFR4","m":"LISA","x":0.531,"y":0.842,"lo":0.8,"hi":0.9},
  {"p":"FGFR4","m":"LISA","x":0.597,"y":0.929,"lo":0.9,"hi":0.97},
  {"p":"FGFR4","m":"LISA","x":0.804,"y":0.941,"lo":0.92,"hi":0.99},
  {"p":"FGFR4","m":"LISA","x":0.864,"y":0.968,"lo":0.95,"hi":0.99},
  {"p":"FGFR4","m":"LISA","x":0.935,"y":0.989,"lo":0.98,"hi":1},
  {"p":"FGFR4","m":"LISA","x":1,"y":1,"lo":1,"hi":1},
  {"p":"FGFR4","m":"ImageMol","x":0,"y":0,"lo":0,"hi":0},
  {"p":"FGFR4","m":"ImageMol","x":0.008,"y":0.215,"lo":0.18,"hi":0.25},
  {"p":"FGFR4","m":"ImageMol","x":0.069,"y":0.3,"lo":0.26,"hi":0.34},
  {"p":"FGFR4","m":"ImageMol","x":0.17,"y":0.424,"lo":0.36,"hi":0.5},
  {"p":"FGFR4","m":"ImageMol","x":0.333,"y":0.579,"lo":0.54,"hi":0.6},
  {"p":"FGFR4","m":"ImageMol","x":0.493,"y":0.884,"lo":0.84,"hi":0.91},
  {"p":"FGFR4","m":"ImageMol","x":0.656,"y":1,"lo":1,"hi":1},
  {"p":"FGFR4","m":"ImageMol","x":1,"y":1,"lo":1,"hi":1},
  {"p":"FGFR4","m":"ChemBERT","x":0,"y":0,"lo":0,"hi":0},
  {"p":"FGFR4","m":"ChemBERT","x":0.008,"y":0.084,"lo":0.05,"hi":0.15},
  {"p":"FGFR4","m":"ChemBERT","x":0.069,"y":0.1,"lo":0.06,"hi":0.15},
  {"p":"FGFR4","m":"ChemBERT","x":0.17,"y":0.167,"lo":0.12,"hi":0.2},
  {"p":"FGFR4","m":"ChemBERT","x":0.333,"y":0.376,"lo":0.32,"hi":0.48},
  {"p":"FGFR4","m":"ChemBERT","x":0.493,"y":0.854,"lo":0.82,"hi":0.9},
  {"p":"FGFR4","m":"ChemBERT","x":0.656,"y":0.89,"lo":0.82,"hi":0.92},
  {"p":"FGFR4","m":"ChemBERT","x":0.828,"y":0.956,"lo":0.94,"hi":0.98},
  {"p":"FGFR4","m":"ChemBERT","x":0.987,"y":1,"lo":1,"hi":1},
  {"p":"FGFR4","m":"ChemBERT","x":1,"y":1,"lo":1,"hi":1},
  {"p":"FGFR4","m":"MolCLR","x":0,"y":0,"lo":0,"hi":0},
  {"p":"FGFR4","m":"MolCLR","x":0.008,"y":0.024,"lo":0,"hi":0.05},
  {"p":"FGFR4","m":"MolCLR","x":0.069,"y":0.06,"lo":0.03,"hi":0.09},
  {"p":"FGFR4","m":"MolCLR","x":0.158,"y":0.335,"lo":0.3,"hi":0.36},
  {"p":"FGFR4","m":"MolCLR","x":0.229,"y":0.35,"lo":0.32,"hi":0.38},
  {"p":"FGFR4","m":"MolCLR","x":0.306,"y":0.615,"lo":0.6,"hi":0.63},
  {"p":"FGFR4","m":"MolCLR","x":0.537,"y":0.627,"lo":0.6,"hi":0.66},
  {"p":"FGFR4","m":"MolCLR","x":0.614,"y":0.72,"lo":0.7,"hi":0.74},
  {"p":"FGFR4","m":"MolCLR","x":0.692,"y":0.79,"lo":0.77,"hi":0.81},
  {"p":"FGFR4","m":"MolCLR","x":0.775,"y":0.872,"lo":0.85,"hi":0.9},
  {"p":"FGFR4","m":"MolCLR","x":0.923,"y":0.89,"lo":0.87,"hi":0.91},
  {"p":"FGFR4","m":"MolCLR","x":0.988,"y":1,"lo":1,"hi":1},
  {"p":"FGFR4","m":"MolCLR","x":1,"y":1,"lo":1,"hi":1},

  {"p":"KPCD3","m":"LISA","x":0,"y":0,"lo":0,"hi":0},
  {"p":"KPCD3","m":"LISA","x":0.008,"y":0.185,"lo":0.14,"hi":0.23},
  {"p":"KPCD3","m":"LISA","x":0.08,"y":0.25,"lo":0.2,"hi":0.3},
  {"p":"KPCD3","m":"LISA","x":0.168,"y":0.346,"lo":0.3,"hi":0.4},
  {"p":"KPCD3","m":"LISA","x":0.245,"y":0.388,"lo":0.34,"hi":0.44},
  {"p":"KPCD3","m":"LISA","x":0.334,"y":0.55,"lo":0.5,"hi":0.6},
  {"p":"KPCD3","m":"LISA","x":0.417,"y":0.639,"lo":0.59,"hi":0.69},
  {"p":"KPCD3","m":"LISA","x":0.505,"y":0.705,"lo":0.66,"hi":0.75},
  {"p":"KPCD3","m":"LISA","x":0.582,"y":0.741,"lo":0.7,"hi":0.79},
  {"p":"KPCD3","m":"LISA","x":0.665,"y":0.771,"lo":0.73,"hi":0.81},
  {"p":"KPCD3","m":"LISA","x":0.754,"y":0.794,"lo":0.76,"hi":0.83},
  {"p":"KPCD3","m":"LISA","x":0.837,"y":0.884,"lo":0.86,"hi":0.9},
  {"p":"KPCD3","m":"LISA","x":0.908,"y":0.918,"lo":0.9,"hi":0.94},
  {"p":"KPCD3","m":"LISA","x":0.99,"y":1,"lo":1,"hi":1},
  {"p":"KPCD3","m":"LISA","x":1,"y":1,"lo":1,"hi":1},
  {"p":"KPCD3","m":"ImageMol","x":0,"y":0,"lo":0,"hi":0},
  {"p":"KPCD3","m":"ImageMol","x":0.008,"y":0.209,"lo":0.18,"hi":0.24},
  {"p":"KPCD3","m":"ImageMol","x":0.091,"y":0.317,"lo":0.28,"hi":0.35},
  {"p":"KPCD3","m":"ImageMol","x":0.168,"y":0.38,"lo":0.3,"hi":0.46},
  {"p":"KPCD3","m":"ImageMol","x":0.245,"y":0.526,"lo":0.45,"hi":0.59},
  {"p":"KPCD3","m":"ImageMol","x":0.334,"y":0.717,"lo":0.7,"hi":0.73},
  {"p":"KPCD3","m":"ImageMol","x":0.659,"y":0.747,"lo":0.73,"hi":0.76},
  {"p":"KPCD3","m":"ImageMol","x":0.754,"y":0.762,"lo":0.74,"hi":0.78},
  {"p":"KPCD3","m":"ImageMol","x":0.837,"y":0.854,"lo":0.82,"hi":0.89},
  {"p":"KPCD3","m":"ImageMol","x":0.908,"y":0.956,"lo":0.94,"hi":0.97},
  {"p":"KPCD3","m":"ImageMol","x":0.99,"y":1,"lo":1,"hi":1},
  {"p":"KPCD3","m":"ImageMol","x":1,"y":1,"lo":1,"hi":1},
  {"p":"KPCD3","m":"ChemBERT","x":0,"y":0,"lo":0,"hi":0},
  {"p":"KPCD3","m":"ChemBERT","x":0.008,"y":0.084,"lo":0.06,"hi":0.11},
  {"p":"KPCD3","m":"ChemBERT","x":0.091,"y":0.12,"lo":0.09,"hi":0.16},
  {"p":"KPCD3","m":"ChemBERT","x":0.168,"y":0.2,"lo":0.16,"hi":0.25},
  {"p":"KPCD3","m":"ChemBERT","x":0.245,"y":0.299,"lo":0.25,"hi":0.35},
  {"p":"KPCD3","m":"ChemBERT","x":0.334,"y":0.436,"lo":0.4,"hi":0.5},
  {"p":"KPCD3","m":"ChemBERT","x":0.44,"y":0.564,"lo":0.49,"hi":0.62},
  {"p":"KPCD3","m":"ChemBERT","x":0.553,"y":0.591,"lo":0.52,"hi":0.7},
  {"p":"KPCD3","m":"ChemBERT","x":0.659,"y":0.771,"lo":0.73,"hi":0.8},
  {"p":"KPCD3","m":"ChemBERT","x":0.754,"y":0.795,"lo":0.75,"hi":0.82},
  {"p":"KPCD3","m":"ChemBERT","x":0.872,"y":0.896,"lo":0.86,"hi":0.91},
  {"p":"KPCD3","m":"ChemBERT","x":0.99,"y":1,"lo":1,"hi":1},
  {"p":"KPCD3","m":"ChemBERT","x":1,"y":1,"lo":1,"hi":1},
  {"p":"KPCD3","m":"MolCLR","x":0,"y":0,"lo":0,"hi":0},
  {"p":"KPCD3","m":"MolCLR","x":0.008,"y":0.054,"lo":0.03,"hi":0.08},
  {"p":"KPCD3","m":"MolCLR","x":0.091,"y":0.09,"lo":0.06,"hi":0.12},
  {"p":"KPCD3","m":"MolCLR","x":0.168,"y":0.15,"lo":0.12,"hi":0.18},
  {"p":"KPCD3","m":"MolCLR","x":0.245,"y":0.2,"lo":0.17,"hi":0.23},
  {"p":"KPCD3","m":"MolCLR","x":0.334,"y":0.32,"lo":0.28,"hi":0.36},
  {"p":"KPCD3","m":"MolCLR","x":0.42,"y":0.412,"lo":0.33,"hi":0.45},
  {"p":"KPCD3","m":"MolCLR","x":0.499,"y":0.514,"lo":0.47,"hi":0.55},
  {"p":"KPCD3","m":"MolCLR","x":0.582,"y":0.591,"lo":0.56,"hi":0.61},
  {"p":"KPCD3","m":"MolCLR","x":0.665,"y":0.603,"lo":0.58,"hi":0.63},
  {"p":"KPCD3","m":"MolCLR","x":0.742,"y":0.687,"lo":0.66,"hi":0.72},
  {"p":"KPCD3","m":"MolCLR","x":0.837,"y":0.95,"lo":0.88,"hi":1},
  {"p":"KPCD3","m":"MolCLR","x":0.914,"y":1,"lo":1,"hi":1},
  {"p":"KPCD3","m":"MolCLR","x":1,"y":1,"lo":1,"hi":1}
 ]
}
}
